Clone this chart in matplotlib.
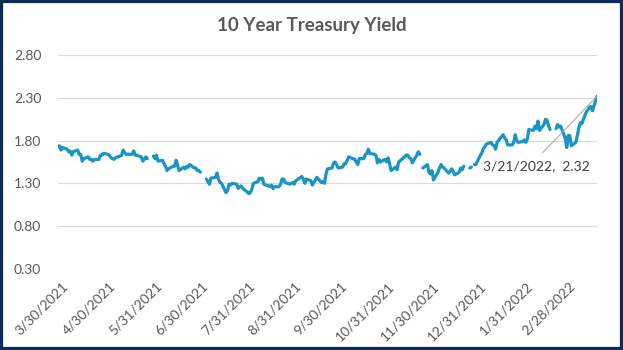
import numpy as np
import pandas as pd
import matplotlib
matplotlib.use("Agg")
import matplotlib.pyplot as plt
import matplotlib.transforms as mtransforms
from matplotlib.patches import Rectangle

# 10-year treasury yield, one value per trading day; NaN leaves a gap in the line
yield_mar21 = [1.73, 1.74]
yield_apr21 = [1.69, 1.72, 1.70, 1.67, 1.68, 1.63, 1.67, 1.69, 1.64, 1.64, 1.56,
               1.59, 1.61, 1.58, 1.58, 1.56, 1.58, 1.58, 1.63, 1.63, 1.65, 1.65]
yield_may21 = [1.63, 1.60, 1.59, 1.58, 1.60, 1.62, 1.63, 1.69, 1.66, 1.64, 1.64,
               1.64, 1.68, 1.63, 1.63, 1.61, 1.56, 1.58, 1.61, 1.59, np.nan]
yield_jun21 = [1.62, 1.59, 1.63, 1.56, 1.57, 1.53, 1.50, 1.45, 1.47, 1.50, 1.50,
               1.57, 1.51, 1.45, 1.49, 1.47, 1.50, 1.49, 1.52, 1.48, 1.48, 1.45]
yield_jul21 = [1.45, 1.43, np.nan, 1.35, 1.32, 1.29, 1.36, 1.37, 1.42, 1.35, 1.31,
               1.30, 1.19, 1.22, 1.29, 1.28, 1.30, 1.29, 1.24, 1.26, 1.27, 1.24]
yield_aug21 = [1.20, 1.18, 1.19, 1.23, 1.30, 1.32, 1.36, 1.35, 1.36, 1.29, 1.27,
               1.26, 1.28, 1.24, 1.26, 1.26, 1.29, 1.35, 1.35, 1.31, 1.29, 1.30]
yield_sep21 = [1.31, 1.29, 1.33, 1.38, 1.35, 1.30, 1.35, 1.33, 1.28, 1.31, 1.34,
               1.37, 1.31, 1.32, 1.30, 1.41, 1.47, 1.48, 1.54, 1.55, 1.52]
yield_oct21 = [1.48, 1.49, 1.53, 1.53, 1.57, 1.61, 1.58, 1.55, 1.52, 1.59, 1.59,
               1.64, 1.65, 1.70, 1.65, 1.64, 1.63, 1.54, 1.58, 1.55]
yield_nov21 = [1.58, 1.55, 1.60, 1.53, 1.45, 1.49, 1.46, 1.55, 1.58, 1.63, 1.63,
               1.60, 1.59, 1.54, 1.63, 1.67, 1.64, np.nan, 1.48, 1.52, 1.43]
yield_dec21 = [1.41, 1.45, 1.34, 1.43, 1.48, 1.52, 1.49, 1.48, 1.42, 1.44, 1.47,
               1.44, 1.40, 1.43, 1.48, 1.46, 1.50, np.nan, 1.48, 1.49, np.nan,
               1.52, 1.52]
yield_jan22 = [1.63, 1.66, 1.71, 1.73, 1.76, 1.78, 1.75, 1.74, 1.70, 1.78, 1.87,
               1.83, 1.81, 1.75, 1.75, 1.78, 1.87, 1.80, 1.78, 1.79]
yield_feb22 = [1.81, 1.78, 1.82, 1.93, 1.92, 1.97, 1.94, 2.03, 1.92, 1.99, 2.05,
               2.04, 1.97, 1.93, np.nan, 1.94, 1.99, 1.96, 1.97, 1.83]
yield_mar22 = [1.72, 1.86, 1.86, 1.74, 1.78, 1.86, 1.95, 2.01, 2.00, 2.14, 2.16,
               2.19, 2.20, 2.15, 2.32]

# holidays with no row at all (the line runs straight across them)
skipped_days = ["2021-09-06", "2021-10-11", "2021-11-11", "2022-01-17"]

tick_dates = ["2021-03-30", "2021-04-30", "2021-05-31", "2021-06-30", "2021-07-31",
              "2021-08-31", "2021-09-30", "2021-10-31", "2021-11-30", "2021-12-31",
              "2022-01-31", "2022-02-28"]
y_ticks = [0.30, 0.80, 1.30, 1.80, 2.30, 2.80]

values = np.array(yield_mar21 + yield_apr21 + yield_may21 + yield_jun21 + yield_jul21
                  + yield_aug21 + yield_sep21 + yield_oct21 + yield_nov21 + yield_dec21
                  + yield_jan22 + yield_feb22 + yield_mar22)
dates = pd.bdate_range("2021-03-30", "2022-03-21")
dates = dates[~dates.isin(pd.to_datetime(skipped_days))]
assert len(dates) == len(values)

plt.rcParams["font.family"] = ["Lato", "DejaVu Sans"]
text_grey = "#595959"

fig = plt.figure(figsize=(6.23, 3.5), dpi=100)
ax = fig.add_axes([58 / 623, 1 - 268.7 / 350, 539 / 623, 213.4 / 350])

ax.plot(dates, values, color="#1895c6", lw=2.3, solid_capstyle="round",
        solid_joinstyle="round")

ax.set_xlim(dates[0], dates[-1])
ax.set_ylim(y_ticks[0], y_ticks[-1])
ax.set_yticks(y_ticks)
ax.set_yticklabels([f"{v:.2f}" for v in y_ticks])
ax.set_xticks(pd.to_datetime(tick_dates))
ax.set_xticklabels([pd.Timestamp(d).strftime("%-m/%-d/%Y") for d in tick_dates],
                   rotation=45, ha="right", rotation_mode="anchor")
ax.grid(axis="y", color="#d9d9d9", lw=0.8)
ax.set_axisbelow(True)
for spine in ax.spines.values():
    spine.set_visible(False)
ax.tick_params(axis="both", length=0, colors=text_grey, labelsize=10)
ax.tick_params(axis="y", pad=12)
ax.tick_params(axis="x", pad=8)

# nudge the slanted date labels a little to the right of their ticks
shift = mtransforms.ScaledTranslation(4 / 100, 0, fig.dpi_scale_trans)
for label in ax.get_xticklabels():
    label.set_transform(label.get_transform() + shift)

last = values[-1]
ax.annotate(f"{dates[-1].month}/{dates[-1].day}/{dates[-1].year},  {last:.2f}",
            xy=(dates[-1], last), xytext=(-44, -50), textcoords="offset points",
            ha="center", va="center", fontsize=10, color="#404040",
            arrowprops=dict(arrowstyle="-", color="#a6a6a6", lw=0.75,
                            shrinkA=4, shrinkB=0, relpos=(0.5, 1.0)))

fig.text(0.5, 1 - 25 / 350, "10 Year Treasury Yield", ha="center", va="center",
         fontsize=13.5, fontweight="bold", color=text_grey)

fig.patches.append(Rectangle((0, 0), 1, 1, transform=fig.transFigure, fill=False,
                             edgecolor="#0b2d55", lw=4.5, zorder=10))

fig.savefig("out.png", dpi=100)
